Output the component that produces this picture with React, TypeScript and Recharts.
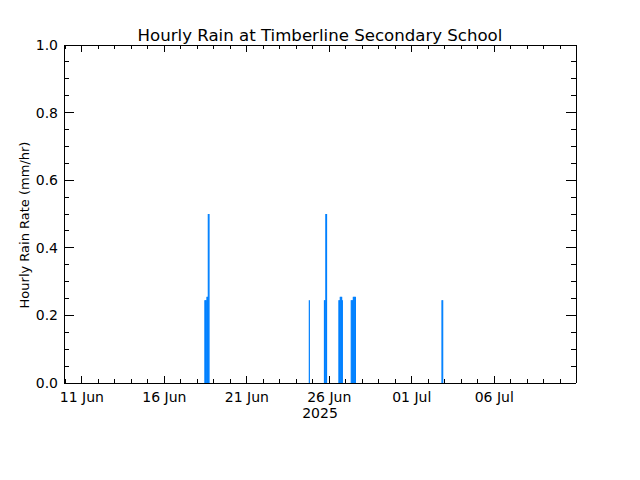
import { Bar, BarChart, XAxis, YAxis } from 'recharts'

// hourly rain, local time
const rainTimes = [
  '2025-06-18 11:00', '2025-06-18 12:00', '2025-06-18 13:00', '2025-06-18 14:00',
  '2025-06-18 15:00', '2025-06-18 16:00', '2025-06-18 17:00',
  '2025-06-24 19:00',
  '2025-06-25 17:00', '2025-06-25 18:00', '2025-06-25 19:00', '2025-06-25 20:00',
  '2025-06-26 14:00', '2025-06-26 15:00', '2025-06-26 16:00', '2025-06-26 17:00',
  '2025-06-26 18:00', '2025-06-26 19:00',
  '2025-06-27 08:00', '2025-06-27 09:00', '2025-06-27 10:00', '2025-06-27 11:00',
  '2025-06-27 12:00', '2025-06-27 13:00', '2025-06-27 14:00',
  '2025-07-02 20:00', '2025-07-02 21:00',
]
const rainRates = [
  0.245, 0.245, 0.245, 0.255,
  0.255, 0.5, 0.5,
  0.245,
  0.245, 0.245, 0.5, 0.5,
  0.245, 0.245, 0.255, 0.255,
  0.255, 0.245,
  0.245, 0.245, 0.245, 0.255,
  0.255, 0.255, 0.255,
  0.245, 0.245,
]

// x axis runs in hours since 11 Jun 2025 00:00
const xDomain = [-26, 719]
const dayTicks = [
  -24, 0, 24, 48, 72, 96, 120, 144, 168, 192, 216, 240, 264, 288, 312, 336,
  360, 384, 408, 432, 456, 480, 504, 528, 552, 576, 600, 624, 648, 672, 696,
]
const majorDayTicks = [0, 120, 240, 360, 480, 600]
const majorDayLabels = ['11 Jun', '16 Jun', '21 Jun', '26 Jun', '01 Jul', '06 Jul']

const yTicks = [
  0, 0.05, 0.1, 0.15, 0.2, 0.25, 0.3, 0.35, 0.4, 0.45, 0.5,
  0.55, 0.6, 0.65, 0.7, 0.75, 0.8, 0.85, 0.9, 0.95, 1.0,
]
const majorYTicks = [0, 0.2, 0.4, 0.6, 0.8, 1.0]
const majorYLabels = ['0.0', '0.2', '0.4', '0.6', '0.8', '1.0']

const FONT = 'DejaVu Sans, sans-serif'
const BLUE = '#0080ff'

function toHours(t: string): number {
  const [d, hm] = t.split(' ')
  const [yy, mm, dd] = d.split('-').map(Number)
  const hh = Number(hm.split(':')[0])
  return (Date.UTC(yy, mm - 1, dd, hh) - Date.UTC(2025, 5, 11, 0)) / 3600000
}

const data = rainTimes.map((t, i) => ({ hour: toHours(t), rate: rainRates[i] }))

function yLabelFor(v: number): string | null {
  const i = majorYTicks.findIndex((m) => Math.abs(m - v) < 1e-6)
  return i >= 0 ? majorYLabels[i] : null
}

function BottomTick({ x, y, payload }: any) {
  const i = majorDayTicks.indexOf(payload.value)
  const major = i >= 0
  return (
    <g>
      <line x1={x} x2={x} y1={y} y2={y - (major ? 7 : 4)} stroke="#000" shapeRendering="crispEdges" />
      {major && (
        <text x={x} y={y + 19} textAnchor="middle" fontSize={14} fontFamily={FONT} fill="#000">
          {majorDayLabels[i]}
        </text>
      )}
    </g>
  )
}

function TopTick({ x, y, payload }: any) {
  const major = majorDayTicks.includes(payload.value)
  return <line x1={x} x2={x} y1={y} y2={y + (major ? 7 : 4)} stroke="#000" shapeRendering="crispEdges" />
}

function LeftTick({ x, y, payload }: any) {
  const label = yLabelFor(payload.value)
  return (
    <g>
      <line x1={x} x2={x + (label ? 10 : 5)} y1={y} y2={y} stroke="#000" shapeRendering="crispEdges" />
      {label && (
        <text x={x - 6} y={y + 5} textAnchor="end" fontSize={14} fontFamily={FONT} fill="#000">
          {label}
        </text>
      )}
    </g>
  )
}

function RightTick({ x, y, payload }: any) {
  const major = yLabelFor(payload.value) != null
  return <line x1={x} x2={x - (major ? 10 : 5)} y1={y} y2={y} stroke="#000" shapeRendering="crispEdges" />
}

function RainBar(props: any) {
  const { x, y, width, height, fill } = props
  if (!height) return null
  const cx = x + width / 2
  return <rect x={cx - 0.6} y={y} width={1.2} height={height} fill={fill} />
}

const axisLine = { stroke: '#000', shapeRendering: 'crispEdges' }

export default function App() {
  return (
    <div style={{ position: 'absolute', left: 0, top: 0, width: 640, height: 480, background: '#fff' }}>
      <BarChart
        width={640}
        height={480}
        data={data}
        margin={{ top: 44, right: 63, bottom: 57, left: 0 }}
      >
        <XAxis
          xAxisId="b"
          dataKey="hour"
          type="number"
          domain={xDomain}
          allowDataOverflow
          ticks={dayTicks}
          interval={0}
          tickSize={0}
          tickMargin={0}
          tickLine={false}
          axisLine={axisLine}
          height={40}
          tick={<BottomTick />}
          label={{ value: '2025', position: 'insideBottom', offset: 5, fontSize: 14, fontFamily: FONT, fill: '#000' }}
        />
        <XAxis
          xAxisId="t"
          orientation="top"
          dataKey="hour"
          type="number"
          domain={xDomain}
          allowDataOverflow
          ticks={dayTicks}
          interval={0}
          tickSize={0}
          tickMargin={0}
          tickLine={false}
          axisLine={axisLine}
          height={1}
          tick={<TopTick />}
        />
        <YAxis
          yAxisId="l"
          type="number"
          domain={[0, 1]}
          allowDataOverflow
          ticks={yTicks}
          interval={0}
          tickSize={0}
          tickMargin={0}
          tickLine={false}
          axisLine={axisLine}
          width={64}
          tick={<LeftTick />}
        />
        <YAxis
          yAxisId="r"
          orientation="right"
          type="number"
          domain={[0, 1]}
          allowDataOverflow
          ticks={yTicks}
          interval={0}
          tickSize={0}
          tickMargin={0}
          tickLine={false}
          axisLine={axisLine}
          width={1}
          tick={<RightTick />}
        />
        <Bar
          xAxisId="b"
          yAxisId="l"
          dataKey="rate"
          fill={BLUE}
          shape={RainBar}
          isAnimationActive={false}
        />
      </BarChart>
      <svg
        width={640}
        height={480}
        style={{ position: 'absolute', left: 0, top: 0, pointerEvents: 'none' }}
      >
        <text x={320} y={41} textAnchor="middle" fontSize={16.6} fontFamily={FONT} fill="#000">
          Hourly Rain at Timberline Secondary School
        </text>
        <text
          x={0}
          y={0}
          transform="translate(29 225) rotate(-90)"
          textAnchor="middle"
          fontSize={13}
          fontFamily={FONT}
          fill="#000"
        >
          Hourly Rain Rate (mm/hr)
        </text>
      </svg>
    </div>
  )
}
